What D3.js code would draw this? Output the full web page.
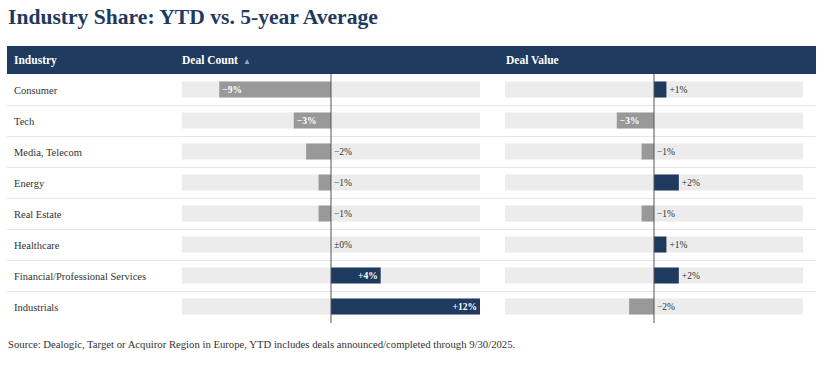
<!DOCTYPE html>
<html>
<head>
<meta charset="utf-8">
<script src="https://d3js.org/d3.v7.min.js"></script>
<style>
  body { margin: 0; background: #fff; }
  svg text { font-family: "Liberation Serif", "DejaVu Serif", serif; }
</style>
</head>
<body>
<div id="chart"></div>
<script>
var industries = ["Consumer", "Tech", "Media, Telecom", "Energy", "Real Estate",
  "Healthcare", "Financial/Professional Services", "Industrials"];
var dealCount = [-9, -3, -2, -1, -1, 0, 4, 12];
var dealValue = [1, -3, -1, 2, -1, 1, 2, -2];
var headers = ["Industry", "Deal Count", "Deal Value"];

var width = 832, height = 365;
var navy = "#1f3a5f", grey = "#999999", bg = "#ececec";

var svg = d3.select("#chart").append("svg")
  .attr("width", width).attr("height", height);

svg.append("text")
  .attr("x", 8).attr("y", 24)
  .attr("fill", navy)
  .style("font-size", "21.6px").style("font-weight", "bold")
  .text("Industry Share: YTD vs. 5-year Average");

// header band
svg.append("rect").attr("x", 7).attr("y", 46).attr("width", 809).attr("height", 28).attr("fill", navy);
var headX = [14, 182, 506];
headers.forEach(function(h, i) {
  var t = svg.append("text").attr("x", headX[i]).attr("y", 64)
    .attr("fill", "#fff").style("font-size", "11.5px").style("font-weight", "bold").text(h);
  if (i == 1) t.append("tspan").attr("fill", "#9aa6b8").attr("dx", 5).style("font-size", "8px").text("▲");
});

var y = d3.scaleBand().domain(industries).range([74, 322]);
var xCount = d3.scaleLinear().domain([-12, 12]).range([182, 480]);
var xValue = d3.scaleLinear().domain([-12, 12]).range([505, 803]);

// row separators
svg.selectAll(".sep").data(industries.slice(1)).enter().append("line")
  .attr("x1", 7).attr("x2", 816)
  .attr("y1", function(d) { return y(d) + 0.5; }).attr("y2", function(d) { return y(d) + 0.5; })
  .attr("stroke", "#e6e6e6");

svg.selectAll(".lab").data(industries).enter().append("text")
  .attr("x", 14).attr("y", function(d) { return y(d) + y.bandwidth() / 2 + 4; })
  .attr("fill", "#333").style("font-size", "10.5px")
  .text(function(d) { return d; });

function fmt(v) {
  if (v == 0) return "±0%";
  return (v > 0 ? "+" : "−") + Math.abs(v) + "%";
}

function barColumn(vals, x) {
  var g = svg.append("g");
  var bh = 16;
  g.selectAll(".bg").data(industries).enter().append("rect")
    .attr("x", x.range()[0]).attr("width", x.range()[1] - x.range()[0])
    .attr("y", function(d) { return y(d) + (y.bandwidth() - bh) / 2; })
    .attr("height", bh).attr("fill", bg);
  g.selectAll(".bar").data(vals).enter().append("rect")
    .attr("x", function(v) { return x(Math.min(0, v)); })
    .attr("width", function(v) { return Math.abs(x(v) - x(0)); })
    .attr("y", function(v, i) { return y(industries[i]) + (y.bandwidth() - bh) / 2; })
    .attr("height", bh)
    .attr("fill", function(v) { return v >= 0 ? navy : grey; });
  vals.forEach(function(v, i) {
    var w = Math.abs(x(v) - x(0));
    var t = g.append("text").attr("y", y(industries[i]) + y.bandwidth() / 2 + 3.5)
      .style("font-size", "9.5px").text(fmt(v));
    var tw = t.node().getComputedTextLength();
    if (w > tw + 14) {
      t.attr("fill", "#fff").style("font-weight", "bold");
      if (v < 0) t.attr("x", x(v) + 3);
      else t.attr("x", x(v) - 3).attr("text-anchor", "end");
    } else {
      t.attr("fill", "#333");
      t.attr("x", v > 0 ? x(v) + 3 : x(0) + 3);
    }
  });
  g.append("line").attr("x1", x(0)).attr("x2", x(0)).attr("y1", 74).attr("y2", 323)
    .attr("stroke", "#555").attr("stroke-width", 1);
}
barColumn(dealCount, xCount);
barColumn(dealValue, xValue);

svg.append("text").attr("x", 8).attr("y", 348)
  .attr("fill", "#333").style("font-size", "10.7px")
  .text("Source: Dealogic, Target or Acquiror Region in Europe, YTD includes deals announced/completed through 9/30/2025.");
</script>
</body>
</html>
